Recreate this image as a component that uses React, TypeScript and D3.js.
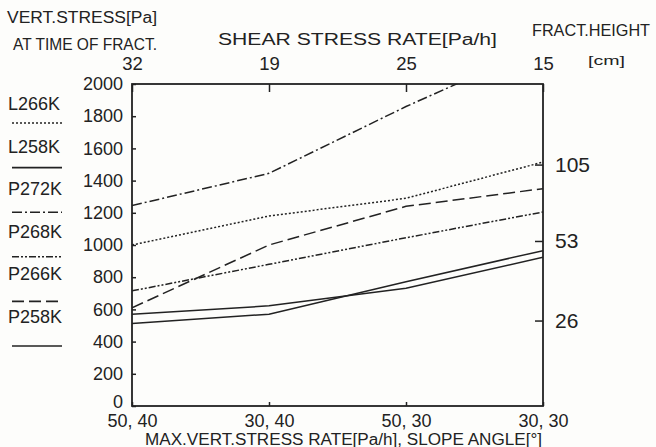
import React, { useEffect, useRef } from 'react';
import * as d3 from 'd3';

// slope conditions (max vert. stress rate, slope angle)
const conditions = ['50, 40', '30, 40', '50, 30', '30, 30'];
// shear stress rate for each condition (top axis)
const shearRates = ['32', '19', '25', '15'];
const stressTicks = [0, 200, 400, 600, 800, 1000, 1200, 1400, 1600, 1800, 2000];
const heightTicks = [105, 53, 26];

const seriesNames = ['L266K', 'L258K', 'P272K', 'P268K', 'P266K', 'P258K'];
const L266K = [1000, 1180, 1290, 1515];
const L258K = [570, 622, 731, 924];
const P272K = [1245, 1445, 1860, 2240];
const P268K = [715, 880, 1045, 1205];
const P266K = [610, 1000, 1240, 1350];
const P258K = [513, 570, 772, 965];

const dashes: Record<string, string | null> = {
  L266K: '2,2',
  L258K: null,
  P272K: '10,3,2,3',
  P268K: '7,2,2,2,2,2',
  P266K: '12,5',
  P258K: null,
};

const W = 656, H = 447;
const m = { top: 84, right: 113, bottom: 41, left: 132 };
const FONT = '"Liberation Sans", Arial, sans-serif';
const INK = '#222';

export default function App() {
  const ref = useRef<SVGSVGElement>(null);

  useEffect(() => {
    const svg = d3.select(ref.current);
    svg.selectAll('*').remove();

    const series = [L266K, L258K, P272K, P268K, P266K, P258K];

    svg.append('rect').attr('width', W).attr('height', H).attr('fill', '#fdfdfb');

    const x = d3.scalePoint<string>()
      .domain(conditions)
      .range([m.left, W - m.right]);

    const y = d3.scaleLinear()
      .domain([0, 2000])
      .range([H - m.bottom, m.top]);

    // fracture height axis, log spaced
    const yR = d3.scaleLog()
      .domain([12.1, 216])
      .range([H - m.bottom, m.top]);

    svg.append('clipPath').attr('id', 'plot')
      .append('rect')
      .attr('x', m.left).attr('y', m.top)
      .attr('width', W - m.left - m.right)
      .attr('height', H - m.top - m.bottom);

    const line = d3.line<number>()
      .x((d, i) => x(conditions[i]) as number)
      .y(d => y(d));

    svg.append('g').attr('clip-path', 'url(#plot)')
      .selectAll('path')
      .data(series)
      .enter().append('path')
      .attr('d', d => line(d))
      .attr('fill', 'none')
      .attr('stroke', INK)
      .attr('stroke-width', 1.5)
      .attr('stroke-dasharray', (d, i) => dashes[seriesNames[i]]);

    // axes
    const styleAxis = (g: any, size: number) => {
      g.select('.domain').remove();
      g.selectAll('line').attr('stroke', INK).attr('stroke-width', 1.5);
      g.selectAll('text').attr('fill', INK).attr('font-size', size).attr('font-family', FONT);
    };

    svg.append('g')
      .attr('transform', `translate(${m.left},0)`)
      .call(d3.axisLeft(y).tickValues(stressTicks).tickSize(-4).tickPadding(9).tickFormat(d3.format('d')))
      .call((g: any) => styleAxis(g, 18))
      .call((g: any) => g.selectAll('text').filter((d: number) => d === 0).attr('dy', '0.1em'));

    svg.append('g')
      .attr('transform', `translate(0,${H - m.bottom})`)
      .call(d3.axisBottom(x).tickSize(-4).tickPadding(8))
      .call((g: any) => styleAxis(g, 18));

    svg.append('g')
      .attr('transform', `translate(0,${m.top})`)
      .call(d3.axisTop(x).tickSize(-8).tickPadding(14).tickFormat((d, i) => shearRates[i]))
      .call((g: any) => styleAxis(g, 18.5));

    svg.append('g')
      .attr('transform', `translate(${W - m.right},0)`)
      .call(d3.axisRight(yR).tickValues(heightTicks).tickSize(-8).tickPadding(12).tickFormat(d3.format('d')))
      .call((g: any) => styleAxis(g, 21));

    // frame
    svg.append('rect')
      .attr('x', m.left).attr('y', m.top)
      .attr('width', W - m.left - m.right)
      .attr('height', H - m.top - m.bottom)
      .attr('fill', 'none')
      .attr('stroke', INK)
      .attr('stroke-width', 1.8);

    // legend
    const lg = svg.append('g');
    seriesNames.forEach((name, i) => {
      lg.append('text')
        .attr('x', 8)
        .attr('y', 110 + i * 42.6)
        .attr('font-size', 18)
        .attr('font-family', FONT)
        .attr('fill', INK)
        .text(name);
      lg.append('line')
        .attr('x1', 12).attr('x2', 62)
        .attr('y1', 123 + i * 44.6).attr('y2', 123 + i * 44.6)
        .attr('stroke', INK)
        .attr('stroke-width', 1.6)
        .attr('stroke-dasharray', dashes[name]);
    });

    // titles
    const label = (tx: string, lx: number, ly: number, size: number, len?: number) => {
      const t = svg.append('text')
        .attr('x', lx).attr('y', ly)
        .attr('font-size', size)
        .attr('font-family', FONT)
        .attr('fill', INK)
        .text(tx);
      if (len) t.attr('textLength', len).attr('lengthAdjust', 'spacingAndGlyphs');
    };

    label('VERT.STRESS[Pa]', 7, 23, 16, 150);
    label('AT TIME OF FRACT.', 13, 49.5, 16, 144);
    label('SHEAR STRESS RATE[Pa/h]', 218, 45, 16, 279);
    label('FRACT.HEIGHT', 532, 36, 16, 118);
    label('[cm]', 588, 65, 13, 37);
    label('MAX.VERT.STRESS RATE[Pa/h], SLOPE ANGLE[°]', 145, 445, 16, 397);
  }, []);

  return (
    <svg ref={ref} width={W} height={H} style={{ position: 'absolute', left: 0, top: 0 }}></svg>
  );
}
